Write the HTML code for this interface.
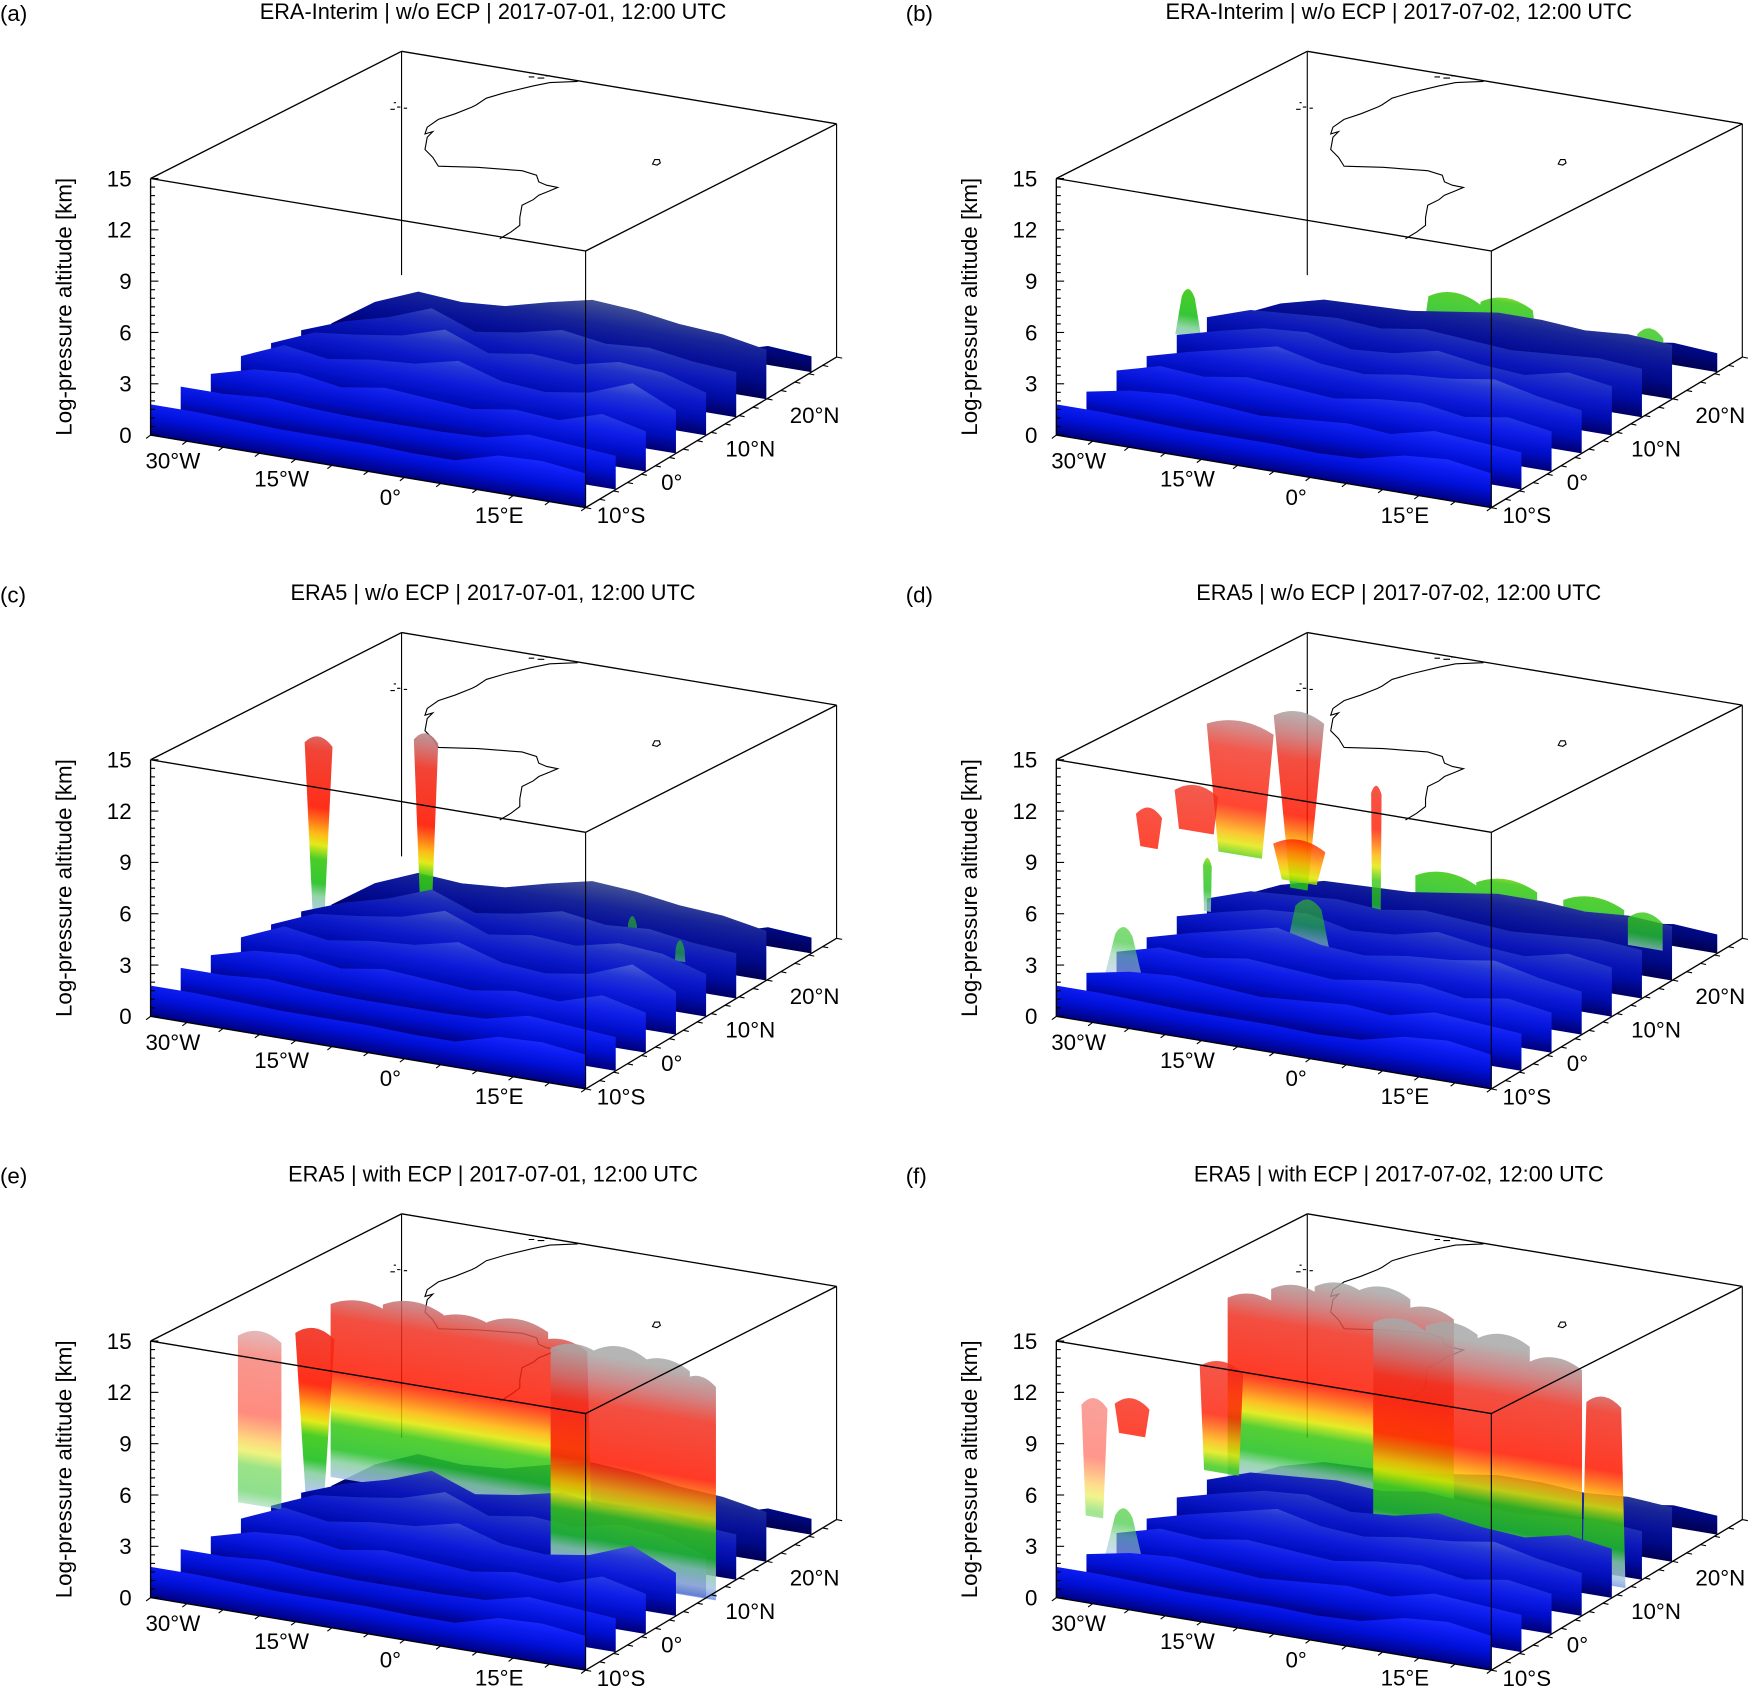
<!DOCTYPE html>
<html><head><meta charset="utf-8"><title>Trajectory 3D panels</title>
<style>
html,body{margin:0;padding:0;background:#fff;}
svg{display:block;}
text{font-family:"Liberation Sans",Arial,sans-serif;fill:#000;}
</style></head>
<body>
<svg id="fig" xmlns="http://www.w3.org/2000/svg" width="1749" height="1688" viewBox="0 0 1568 1513" preserveAspectRatio="none">
<defs>
<linearGradient id="surfGrad" gradientUnits="userSpaceOnUse" x1="0" y1="0" x2="0" y2="6">
<stop offset="0" stop-color="#000080"/><stop offset="0.17" stop-color="#0010d8"/>
<stop offset="0.33" stop-color="#1020f8"/><stop offset="0.5" stop-color="#2a40f4"/>
<stop offset="0.67" stop-color="#6078f0"/><stop offset="0.85" stop-color="#a8b8e8"/>
<stop offset="1" stop-color="#b8c8e8"/>
</linearGradient>
<linearGradient id="cloudGrad" gradientUnits="userSpaceOnUse" x1="0" y1="0" x2="0" y2="16">
<stop offset="0" stop-color="#5878e8"/>
<stop offset="0.0625" stop-color="#a8c4e4"/>
<stop offset="0.125" stop-color="#88d0a0"/>
<stop offset="0.175" stop-color="#20c020"/>
<stop offset="0.27" stop-color="#38c810"/>
<stop offset="0.325" stop-color="#e0e800"/>
<stop offset="0.37" stop-color="#ffb000"/>
<stop offset="0.42" stop-color="#ff6000"/>
<stop offset="0.47" stop-color="#ff1800"/>
<stop offset="0.69" stop-color="#f03020"/>
<stop offset="0.78" stop-color="#c87070"/>
<stop offset="0.88" stop-color="#a8a8a8"/>
<stop offset="1" stop-color="#a8a8a8"/>
</linearGradient>
</defs>
</svg>
<script>
// ---- data ----
const rowsV = [0.9, 0.72, 0.6, 0.48, 0.36, 0.24, 0.12, 0.0];
const rowDark = [0.45, 0.42, 0.28, 0.2, 0.13, 0.07, 0.03, 0.0];
const uGrid = [0, 0.1, 0.2, 0.3, 0.4, 0.5, 0.6, 0.7, 0.8, 0.9, 1.0];
const surfDay1 = [
[0,0,0,0,0,0,0,0,0.4,1.2,1.0],
[0.2,2.0,3.1,2.9,3.1,3.8,4.4,4.2,3.8,3.6,3.1],
[0.9,1.9,2.6,3.6,2.6,3.0,3.6,3.2,3.4,3.0,2.8],
[1.2,2.3,2.6,3.0,3.8,2.8,3.2,3.0,3.6,3.4,2.6],
[1.5,2.6,2.2,2.6,2.8,3.4,2.6,2.4,2.8,3.8,2.6],
[1.5,2.2,2.4,2.0,2.4,2.2,2.0,2.4,2.2,3.0,2.4],
[1.8,1.8,2.0,1.8,1.7,1.7,1.7,1.8,2.4,2.2,2.0],
[1.8,1.8,1.7,1.6,1.6,1.6,1.5,1.5,2.2,2.3,2.0]];
const surfDay2 = [
[0,0,0,0,0,0,0,0,1.0,1.4,1.2],
[0.7,1.9,2.6,2.7,2.8,3.2,3.6,3.6,3.4,3.6,3.4],
[1.7,2.6,2.8,3.0,2.8,3.2,3.0,2.8,3.0,3.2,3.0],
[1.7,2.4,3.0,3.2,2.6,2.8,3.4,3.0,2.8,3.4,3.0],
[1.5,2.2,2.8,3.4,2.8,2.6,3.0,3.2,3.6,3.0,2.6],
[1.7,2.4,2.2,2.6,2.4,2.2,2.6,2.8,2.4,2.8,2.4],
[1.5,2.0,2.2,2.0,1.8,2.0,2.2,2.0,2.6,2.4,2.2],
[1.8,1.8,1.7,1.6,1.6,1.6,1.5,1.6,2.2,2.4,2.0]];
// plume columns: [u, v, zBottom, zTop, halfWidthTop, halfWidthBottom, opacity]
const plumesA = [];
const plumesB = [[0.015,0.5,1.5,4.4,0.015,0.03,0.9],[0.5,0.72,2.0,4.4,0.06,0.07,0.85],[0.62,0.72,2.0,4.6,0.06,0.07,0.85],[0.95,0.72,2.5,4.2,0.03,0.03,0.8],[0.85,0.55,0.3,2.2,0.1,0.1,0.7],[0.25,0.45,0,2.0,0.07,0.1,0.6],[0.35,0.4,0,1.8,0.06,0.08,0.6]];
const plumesC = [[0.04,0.6,0,11.9,0.032,0.012,0.9],[0.287,0.6,0,13.2,0.028,0.01,0.9],[0.75,0.62,2.5,3.8,0.01,0.012,0.6],[0.9,0.55,2.3,3.6,0.01,0.012,0.6]];
const plumesD = [[0.2,0.62,3,14,0.058,0.02,0.85],[0.065,0.62,4.5,12.8,0.077,0.05,0.8],[0.04,0.3,7.6,10,0.03,0.02,0.8],[0.12,0.35,8.5,11.3,0.05,0.04,0.8],[0.27,0.5,4.8,7.4,0.06,0.04,0.85],[0.378,0.62,2.5,10.2,0.012,0.01,0.8],[0.03,0.55,1.5,4.8,0.01,0.008,0.8],[0.48,0.72,2.0,4.4,0.07,0.07,0.85],[0.62,0.72,2.0,4.6,0.07,0.07,0.85],[0.82,0.72,2.0,4.4,0.07,0.07,0.85],[0.95,0.7,2,4.2,0.04,0.04,0.8],[0.04,0.2,0,3.7,0.02,0.05,0.6],[0.32,0.45,0,4.4,0.03,0.06,0.6]];
const plumesE = [[0.08,0.7,1.0,12.3,0.07,0.07,0.85],[0.2,0.7,1.0,12.8,0.07,0.07,0.85],[0.32,0.7,1.0,12.5,0.07,0.07,0.85],[0.44,0.7,1.0,12.8,0.07,0.07,0.85],[0.54,0.7,1.0,12.0,0.06,0.07,0.85],[0.02,0.62,0,11,0.045,0.02,0.9],[0.72,0.45,0.3,14.5,0.06,0.06,0.85],[0.82,0.45,0.3,14.8,0.06,0.06,0.85],[0.92,0.45,0.3,14.5,0.06,0.06,0.85],[1.0,0.45,0.3,13.8,0.04,0.04,0.85],[0.02,0.4,2.0,12.6,0.05,0.05,0.5]];
const plumesF = [[0.05,0.7,0.8,12.6,0.06,0.06,0.85],[0.15,0.7,0.8,13.6,0.06,0.06,0.85],[0.25,0.7,0.8,14.2,0.06,0.06,0.85],[0.35,0.7,0.8,14.4,0.06,0.06,0.85],[0.45,0.7,0.8,13.6,0.06,0.06,0.85],[0.5,0.5,0.5,14.7,0.06,0.06,0.85],[0.62,0.5,0.5,15,0.06,0.06,0.85],[0.74,0.5,0.5,14.8,0.06,0.06,0.85],[0.86,0.5,0.5,13.9,0.06,0.06,0.85],[0.97,0.5,0.5,12,0.04,0.05,0.85],[0.12,0.45,4,10.8,0.05,0.04,0.8],[0.03,0.25,7.6,9.8,0.04,0.03,0.8],[0.04,0.2,0,3.7,0.02,0.05,0.6],[0.03,0.1,4,11,0.03,0.02,0.45]];
const zTicks = [0, 3, 6, 9, 12, 15];
const lonTicks = [-30, -15, 0, 15];
const lonLabels = ['30°W', '15°W', '0°', '15°E'];
const latTicks = [-10, 0, 10, 20];
const latLabels = ['10°S', '0°', '10°N', '20°N'];
const panelLetters = ['(a)','(b)','(c)','(d)','(e)','(f)'];
const panelTitles = ['ERA-Interim | w/o ECP | 2017-07-01, 12:00 UTC','ERA-Interim | w/o ECP | 2017-07-02, 12:00 UTC','ERA5 | w/o ECP | 2017-07-01, 12:00 UTC','ERA5 | w/o ECP | 2017-07-02, 12:00 UTC','ERA5 | with ECP | 2017-07-01, 12:00 UTC','ERA5 | with ECP | 2017-07-02, 12:00 UTC'];
const panelSurf = [surfDay1, surfDay2, surfDay1, surfDay2, surfDay1, surfDay2];
const panelPlumes = [plumesA, plumesB, plumesC, plumesD, plumesE, plumesF];
const coast = [[518,73],[493,74],[478,77],[453,83],[436,88],[427,94],[423,96],[408,102],[393,107],[383,114],[381,120],[388,118],[383,123],[381,134],[388,141],[393,149],[428,150],[468,153],[481,157],[483,163],[490,166],[500,168],[493,171],[483,175],[478,179],[468,184],[466,195],[466,202],[458,208],[448,214]];

// ---- axes / projection ----
const NS = 'http://www.w3.org/2000/svg';
function sV(v){ return (230 - 21*v) / 15; }
function proj(u, v, z){ return [135 + 390*u + 225*v, 390 + 65*u - 135*v - z*sV(v)]; }
function lonToU(lon){ return (lon + 30) / 60; }
function latToV(lat){ return (lat + 10) / 45; }
function mk(tag, attrs, parent){ const e = document.createElementNS(NS, tag); for (const k in attrs) e.setAttribute(k, attrs[k]); parent.appendChild(e); return e; }
function line(p, q, parent, w){ return mk('line', {x1:p[0], y1:p[1], x2:q[0], y2:q[1], stroke:'#000', 'stroke-width': w || 1}, parent); }
function rowMatrix(v){ const s = sV(v); return 'matrix(390,65,0,' + (-s) + ',' + (135 + 225*v) + ',' + (390 - 135*v) + ')'; }

const svg = document.getElementById('fig');
const offs = [[0,0],[812,0],[0,521],[812,521],[0,1042],[812,1042]];
const FS = 20;

for (let p = 0; p < 6; p++){
  const g = mk('g', {transform:'translate(' + offs[p][0] + ',' + offs[p][1] + ')'}, svg);
  
  

  const lt = mk('text', {x:0, y:19, 'font-size':20}, g); lt.textContent = panelLetters[p];
  
  
  const tt = mk('text', {x:442, y:17, 'font-size':19.5, 'text-anchor':'middle'}, g); tt.textContent = panelTitles[p];
  
  

  // back box lines
  const back = mk('g', {}, g);
  
  
  line(proj(0,1,0.6), proj(0,1,15), back);
  line(proj(0,0,15), proj(0,1,15), back, 1.2);
  line(proj(0,1,15), proj(1,1,15), back, 1.2);
  line(proj(1,1,0), proj(1,1,15), back);
  const cl = mk('polyline', {points: coast.map(c => c.join(',')).join(' '), fill:'none', stroke:'#000', 'stroke-width':1}, g);
  
  
  const isl = mk('path', {d:'M585,147 l2,-4 l4,0 l1,3 l-3,2 z M350,98 h4 M356,96 h3 M362,97 h3 M353,92 h2 M474,69 h5 M482,70 h6 M489,68 h4', fill:'none', stroke:'#000', 'stroke-width':1}, g);
  
  

  // data layers sorted back to front; plumes grouped by (v, opacity) to avoid seams
  const items = [];
  const surf = panelSurf[p];
  for (let r = 0; r < rowsV.length; r++) items.push({v: rowsV[r], kind:'s', r: r});
  const groups = {};
  panelPlumes[p].forEach(pl => {
    const key = pl[1] + '_' + pl[6];
    if (!groups[key]){ groups[key] = {v: pl[1] + 0.001, kind:'p', vv: pl[1], op: pl[6], list: []}; items.push(groups[key]); }
    groups[key].list.push(pl);
  });
  items.sort((a, b) => b.v - a.v);
  const data = mk('g', {}, g);
  
  
  items.forEach(it => {
    if (it.kind === 's'){
      const v = rowsV[it.r], h = surf[it.r];
      let d = 'M0,0';
      for (let i = 0; i < uGrid.length; i++) d += ' L' + uGrid[i] + ',' + h[i];
      d += ' L1,0 Z';
      const rg = mk('g', {transform: rowMatrix(v)}, data);
      
      
      mk('path', {d: d, fill:'url(#surfGrad)'}, rg);
      mk('path', {d: d, fill:'#000018', 'fill-opacity': rowDark[it.r]}, rg);
    } else {
      let d = '';
      it.list.forEach(pl => {
        const [u, v, zb, zt, wt, wb] = pl;
        d += 'M' + (u-wb) + ',' + zb + ' L' + (u-wt) + ',' + (zt-0.5) + ' Q' + u + ',' + (zt+0.5) + ' ' + (u+wt) + ',' + (zt-0.5) + ' L' + (u+wb) + ',' + zb + ' Z ';
      });
      const pg = mk('g', {transform: rowMatrix(it.vv)}, data);
      
      
      mk('path', {d: d, fill:'url(#cloudGrad)', 'fill-opacity': it.op, 'fill-rule':'nonzero'}, pg);
    }
  });

  // front box lines
  const front = mk('g', {}, g);
  
  
  line(proj(0,0,0), proj(0,0,15), front, 1.2);
  line(proj(1,0,0), proj(1,0,15), front);
  line(proj(0,0,15), proj(1,0,15), front, 1.2);
  line(proj(1,0,15), proj(1,1,15), front, 1.2);
  line(proj(0,0,0), proj(1,0,0), front, 1.2);
  line(proj(1,0,0), proj(1,1,0), front, 1.2);

  // z axis
  const za = mk('g', {}, g);
  
  
  for (let z = 0; z <= 15; z += 0.5){
    const q = proj(0,0,z); const major = (z % 3 === 0);
    line(q, [q[0] + (major ? 7 : 4), q[1]], za);
  }
  zTicks.forEach(z => {
    const q = proj(0,0,z);
    const t = mk('text', {x:118, y:q[1]+7, 'font-size':FS, 'text-anchor':'end'}, za); t.textContent = String(z);
    
    
  });
  const yl = mk('text', {x:0, y:0, 'font-size':FS, 'text-anchor':'middle', transform:'translate(64,275) rotate(-90)'}, za);
  yl.textContent = 'Log-pressure altitude [km]';
  
  

  // lon axis
  const xa = mk('g', {}, g);
  
  
  for (let lon = -30; lon <= 30; lon += 5){ const q = proj(lonToU(lon),0,0); line(q, [q[0]-4, q[1]+3], xa); }
  lonTicks.forEach((lon, i) => {
    const q = proj(lonToU(lon),0,0);
    const t = mk('text', {x:q[0]+20, y:q[1]+30, 'font-size':FS, 'text-anchor':'middle'}, xa); t.textContent = lonLabels[i];
    
    
  });
  // lat axis
  const ya = mk('g', {}, g);
  
  
  for (let lat = -10; lat <= 35; lat += 2.5){ const q = proj(1,latToV(lat),0); line(q, [q[0]+5, q[1]+1], ya); }
  latTicks.forEach((lat, i) => {
    const v = latToV(lat); const q = proj(1,v,0);
    const t = mk('text', {x:q[0] + 10 + (v/0.667)*23, y:q[1]+14, 'font-size':FS, 'text-anchor':'start'}, ya); t.textContent = latLabels[i];
    
    
  });
}
</script>
</body></html>
